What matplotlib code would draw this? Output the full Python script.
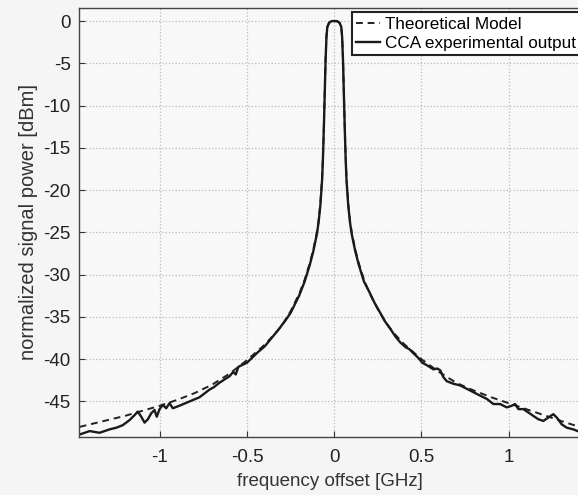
import numpy as np
import matplotlib
matplotlib.use("Agg")
import matplotlib.pyplot as plt

plt.rcParams["font.family"] = ["Liberation Sans", "DejaVu Sans"]
plt.rcParams["axes.unicode_minus"] = False

# theoretical model
theo_x = [-1.46, -1.4, -1.3, -1.2, -1.1, -1.0, -0.9, -0.8, -0.7, -0.6, -0.5, -0.45, -0.4,
          -0.35, -0.3, -0.25, -0.2, -0.17, -0.14, -0.12, -0.1, -0.09, -0.08, -0.07, -0.065,
          -0.06, -0.055, -0.05, -0.045, -0.04, -0.03, -0.015, 0.0,
          0.015, 0.03, 0.04, 0.045, 0.05, 0.055, 0.06, 0.065, 0.07, 0.08, 0.09, 0.1, 0.12,
          0.14, 0.17, 0.2, 0.25, 0.3, 0.35, 0.4, 0.45, 0.5, 0.6, 0.7, 0.8, 0.9, 1.0, 1.1,
          1.2, 1.3, 1.42]
theo_y = [-48.0, -47.7, -47.2, -46.7, -46.1, -45.5, -44.8, -44.0, -43.0, -41.7, -40.1, -39.2, -38.3,
          -37.2, -36.0, -34.3, -32.2, -30.6, -28.6, -27.0, -25.0, -23.6, -21.6, -18.6, -16.0,
          -12.5, -8.5, -4.5, -1.8, -0.7, -0.2, 0.0, 0.0,
          0.0, -0.2, -0.7, -1.8, -4.5, -8.5, -12.5, -16.0, -18.6, -21.6, -23.6, -25.0, -27.0,
          -28.6, -30.6, -32.1, -34.1, -35.8, -37.1, -38.2, -39.1, -40.0, -41.5, -42.8, -43.7,
          -44.5, -45.2, -45.9, -46.6, -47.3, -48.1]

# CCA experimental output
exp_x = [-1.46, -1.403, -1.346, -1.289, -1.25, -1.213, -1.174, -1.145, -1.127, -1.107,
         -1.088, -1.069, -1.05, -1.031, -1.018, -1.002, -0.983, -0.964, -0.945, -0.926,
         -0.888, -0.831, -0.773, -0.716, -0.69, -0.66, -0.63, -0.6, -0.58, -0.565, -0.55,
         -0.53, -0.5, -0.47, -0.44, -0.4, -0.36, -0.32, -0.28, -0.25, -0.2, -0.17, -0.14,
         -0.12, -0.1, -0.09, -0.08, -0.07, -0.065, -0.06, -0.055, -0.05, -0.045, -0.04,
         -0.03, -0.015, 0.0, 0.015, 0.03, 0.04, 0.045, 0.05, 0.055, 0.06, 0.065, 0.07, 0.08,
         0.09, 0.1, 0.12, 0.14, 0.17, 0.2, 0.23, 0.263, 0.29, 0.321, 0.35, 0.378, 0.41,
         0.43, 0.454, 0.48, 0.504, 0.53, 0.569, 0.59, 0.607, 0.625, 0.645, 0.683, 0.722,
         0.76, 0.798, 0.836, 0.875, 0.912, 0.951, 0.989, 1.018, 1.037, 1.056, 1.084, 1.113,
         1.141, 1.17, 1.199, 1.227, 1.256, 1.276, 1.304, 1.333, 1.371, 1.396]
exp_y = [-48.9, -48.5, -48.7, -48.3, -48.1, -47.8, -47.2, -46.6, -46.2, -46.8,
         -47.5, -47.1, -46.4, -46.0, -46.8, -45.9, -45.4, -45.8, -45.2, -45.8,
         -45.5, -45.0, -44.5, -43.6, -43.3, -42.8, -42.4, -42.0, -41.5, -41.8, -40.9,
         -40.7, -40.4, -39.8, -39.2, -38.5, -37.5, -36.5, -35.4, -34.5, -32.4, -30.8, -28.8,
         -27.2, -25.2, -23.8, -21.8, -18.8, -16.2, -12.7, -8.7, -4.7, -1.9, -0.7,
         -0.2, 0.0, 0.0, 0.0, -0.2, -0.7, -1.9, -4.7, -8.7, -12.7, -16.2, -18.8, -21.8,
         -23.8, -25.2, -27.2, -28.8, -30.8, -32.0, -33.3, -34.5, -35.5, -36.4, -37.3, -38.0,
         -38.6, -38.8, -39.3, -39.8, -40.4, -40.7, -41.2, -41.1, -41.3, -42.1, -42.6, -42.9,
         -43.1, -43.5, -43.9, -44.3, -44.7, -45.3, -45.3, -45.7, -45.5, -45.3, -45.9, -45.9,
         -46.3, -46.7, -47.1, -47.3, -46.9, -46.5, -46.9, -47.7, -48.1, -48.3, -48.5]

x_ticks = [-1, -0.5, 0, 0.5, 1]
x_labels = ["-1", "-0.5", "0", "0.5", "1"]
y_ticks = [0, -5, -10, -15, -20, -25, -30, -35, -40, -45]

fig = plt.figure(figsize=(5.78, 4.95), dpi=100, facecolor="#f5f5f5")
ax = fig.add_axes([79 / 578, 58 / 495, 501 / 578, 429 / 495])
ax.set_facecolor("#f8f8f8")

ax.plot(theo_x, theo_y, color="#222222", lw=1.4, ls=(0, (3.5, 2.5)), label="Theoretical Model")
ax.plot(exp_x, exp_y, color="#1a1a1a", lw=1.7, label="CCA experimental output")

ax.set_xlim(-1.464, 1.409)
ax.set_ylim(-49.2, 1.55)
ax.set_xticks(x_ticks)
ax.set_xticklabels(x_labels)
ax.set_yticks(y_ticks)
ax.tick_params(direction="in", labelsize=13.5, length=4, color="#333333", labelcolor="#222222")
ax.tick_params(axis="x", pad=9)
ax.tick_params(axis="y", pad=6)
ax.grid(True, color="#bbbbbb", ls=":", lw=0.9)
for s in ax.spines.values():
    s.set_color("#444444")
    s.set_linewidth(1.0)

ax.set_xlabel("frequency offset [GHz]", fontsize=13.5, color="#333333", labelpad=5)
ax.set_ylabel("normalized signal power [dBm]", fontsize=14.5, color="#333333", labelpad=4)

leg = ax.legend(loc="upper left", bbox_to_anchor=(0.545, 0.99), borderaxespad=0,
                fontsize=12.3, handlelength=1.4, handletextpad=0.3, borderpad=0.25,
                labelspacing=0.25, fancybox=False, framealpha=1, facecolor="white")
leg.get_frame().set_edgecolor("#222222")
leg.get_frame().set_linewidth(1.5)

fig.savefig("out.png", dpi=100, facecolor=fig.get_facecolor())
